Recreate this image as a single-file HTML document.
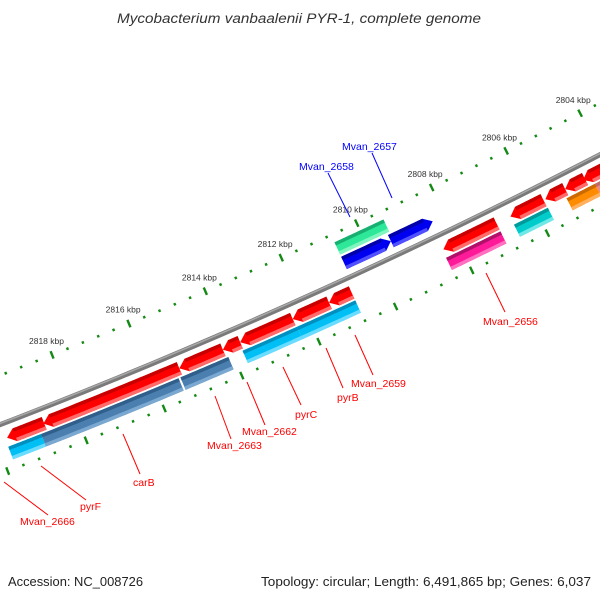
<!DOCTYPE html>
<html><head><meta charset="utf-8"><style>
html,body{margin:0;padding:0;background:#fff;}
svg{display:block;}
text{font-family:"Liberation Sans","DejaVu Sans",sans-serif;}
</style></head><body>
<svg id="map" width="600" height="600" viewBox="0 0 600 600" xmlns="http://www.w3.org/2000/svg">
<rect width="600" height="600" fill="#fff"/>
<text x="299" y="23" text-anchor="middle" font-size="13.5" font-style="italic" fill="#333" textLength="364" lengthAdjust="spacingAndGlyphs">Mycobacterium vanbaalenii PYR-1, complete genome</text>
<g id="ticks"></g>
<g id="backbone"></g>
<g id="genes"></g>
<g id="labels">
<g><line x1="4" y1="482" x2="48" y2="515" stroke="#f00"/><text x="20" y="525" font-size="10.5" fill="#f00">Mvan_2666</text></g>
<g><line x1="41" y1="466" x2="86" y2="500" stroke="#f00"/><text x="80" y="510" font-size="10.5" fill="#f00">pyrF</text></g>
<g><line x1="123" y1="434" x2="140" y2="474" stroke="#f00"/><text x="133" y="486" font-size="10.5" fill="#f00">carB</text></g>
<g><line x1="215" y1="396" x2="231" y2="439" stroke="#f00"/><text x="207" y="449" font-size="10.5" fill="#f00">Mvan_2663</text></g>
<g><line x1="247" y1="382" x2="265" y2="425" stroke="#f00"/><text x="242" y="435" font-size="10.5" fill="#f00">Mvan_2662</text></g>
<g><line x1="283" y1="367" x2="301" y2="405" stroke="#f00"/><text x="295" y="418" font-size="10.5" fill="#f00">pyrC</text></g>
<g><line x1="326" y1="348" x2="343" y2="388" stroke="#f00"/><text x="337" y="401" font-size="10.5" fill="#f00">pyrB</text></g>
<g><line x1="355" y1="335" x2="373" y2="375" stroke="#f00"/><text x="351" y="387" font-size="10.5" fill="#f00">Mvan_2659</text></g>
<g><line x1="486" y1="273" x2="505" y2="312" stroke="#f00"/><text x="483" y="325" font-size="10.5" fill="#f00">Mvan_2656</text></g>
<g><line x1="328" y1="173" x2="350" y2="217" stroke="#00f"/><text x="299" y="170" font-size="10.5" fill="#00f">Mvan_2658</text></g>
<g><line x1="372" y1="153" x2="392" y2="198" stroke="#00f"/><text x="342" y="150" font-size="10.5" fill="#00f">Mvan_2657</text></g>
</g>
<text x="8" y="586" font-size="13" fill="#222" textLength="135" lengthAdjust="spacingAndGlyphs">Accession: NC_008726</text>
<text x="261" y="586" font-size="13" fill="#222" textLength="330" lengthAdjust="spacingAndGlyphs">Topology: circular; Length: 6,491,865 bp; Genes: 6,037</text>
</svg>
<script>
// ---- data (kbp) ----
const redStarts   = [2818.78,2815.30,2814.17,2813.72,2812.35,2811.40,2810.81,2806.98,2805.73,2805.15,2804.62,2803.05];
const redEnds     = [2819.73,2818.80,2815.30,2814.17,2813.72,2812.35,2811.40,2808.39,2806.61,2805.68,2805.15,2804.67];
const lowerStarts = [2818.94,2815.41,2814.12,2812.33,2810.81,2806.98,2805.72,2804.46,2803.14];
const lowerEnds   = [2819.78,2818.94,2815.36,2813.75,2812.33,2808.42,2806.62,2805.22,2804.46];
const lowerTypes  = ["cyan","steel","steel","cyan","cyan","pink","teal","orange","coral"];
const innerStarts = [2809.44,2808.33];
const innerEnds   = [2810.68,2809.44];
const outerStarts = [2809.38];
const outerEnds   = [2810.68];
const tickLabels  = [2804,2806,2808,2810,2812,2814,2816,2818];

// ---- geometry ----
const CX=-2132.7, CY=-5116, R=5937;
const TH0=Math.atan2(113-CY,580-CX);
const DTH=0.4036*Math.PI/180;
const NS="http://www.w3.org/2000/svg";
function pt(k,r){const t=TH0+(k-2804)*DTH;return [CX+(R+r)*Math.cos(t),CY+(R+r)*Math.sin(t)];}
function arcPts(k1,k2,r){const n=24,a=[];for(let i=0;i<=n;i++){a.push(pt(k1+(k2-k1)*i/n,r));}return a;}
function mk(tag,attrs,parent){const e=document.createElementNS(NS,tag);for(const k in attrs)e.setAttribute(k,attrs[k]);parent.appendChild(e);return e;}
const P=p=>p.map(q=>q[0].toFixed(2)+","+q[1].toFixed(2)).join(" ");

// backbone
const bb=document.getElementById('backbone');
let bpath="M"+arcPts(2801,2822,0).map(q=>q[0].toFixed(2)+" "+q[1].toFixed(2)).join(" L");
const b1=mk('path',{d:bpath,fill:"none",stroke:"#7a7a7a","stroke-width":5},bb);


const b2=mk('path',{d:bpath,fill:"none",stroke:"#a8a8a8","stroke-width":1.5,transform:"translate(0,-1.2)"},bb);



// ticks
const tg=document.getElementById('ticks');
for(let i=0;i<=50;i++){
  const k=2801.2+i*0.4;
  const major=Math.abs(k/2-Math.round(k/2))<0.01;
  [-46,46].forEach(r=>{
    const h=major?4:1.3;
    const a=pt(k,r-h),b=pt(k,r+h);
    const l=mk('line',{x1:a[0],y1:a[1],x2:b[0],y2:b[1],stroke:"#138a13","stroke-width":2.4},tg);
    
    
  });
}
tickLabels.forEach(k=>{
  const p=pt(k,-61);
  const t=mk('text',{x:p[0],y:p[1]+3,"text-anchor":"middle","font-size":"8.5",fill:"#333"},tg);
  t.textContent=k+" kbp";
  
  
});

// genes
const gg=document.getElementById('genes');
const COL={red:["#ff0000","#c80000","#ff6a6a"],cyan:["#00bff5","#0090c0","#6adcff"],steel:["#4a7fb0","#2f5f8a","#7aa8d0"],
  pink:["#ff1a9a","#b0106a","#ff70c0"],teal:["#00cccc","#009a9a","#70e8e8"],orange:["#ff8c00","#cc6a00","#ffb060"],
  coral:["#f08a8a","#c06a6a","#f8b0b0"],blue:["#0000f0","#0000a8","#5050ff"],green:["#2ee89a","#18b070","#80f5c0"]};
function gene(k1,k2,r1,r2,type,arrow,name){
  const c=COL[type],g=mk('g',{},gg);
  
  
  const head=Math.min(0.2,(k2-k1)*0.45);
  let a=k1,b=k2;
  if(arrow>0)b=k2-head; if(arrow<0)a=k1+head;
  function shape(ra,rb){
    let outer=arcPts(a,b,ra),inner=arcPts(a,b,rb).reverse();
    let pts=[];
    if(arrow<0)pts.push(pt(k1,(r1+r2)/2));
    pts=pts.concat(outer);
    if(arrow>0)pts.push(pt(k2,(r1+r2)/2));
    pts=pts.concat(inner);
    return pts;
  }
  mk('polygon',{points:P(shape(r1,r2)),fill:c[0]},g);
  const dark=mk('polygon',{points:P(arcPts(a,b,r1).concat(arcPts(a,b,r1+3.5).reverse())),fill:c[1]},g);
  
  
  const lite=mk('polygon',{points:P(arcPts(a,b,r2-3.5).concat(arcPts(a,b,r2).reverse())),fill:c[2]},g);
  
  
}
redStarts.forEach((s,i)=>gene(s,redEnds[i],8,21.5,"red",1,"forward-gene-"+i));
lowerStarts.forEach((s,i)=>gene(s,lowerEnds[i],23.5,37,lowerTypes[i],0,"feature-gene-"+i));
innerStarts.forEach((s,i)=>gene(s,innerEnds[i],-22,-8.5,"blue",-1,"reverse-gene-"+i));
outerStarts.forEach((s,i)=>gene(s,outerEnds[i],-38,-24.5,"green",0,"green-feature-"+i));
</script>
</body></html>
